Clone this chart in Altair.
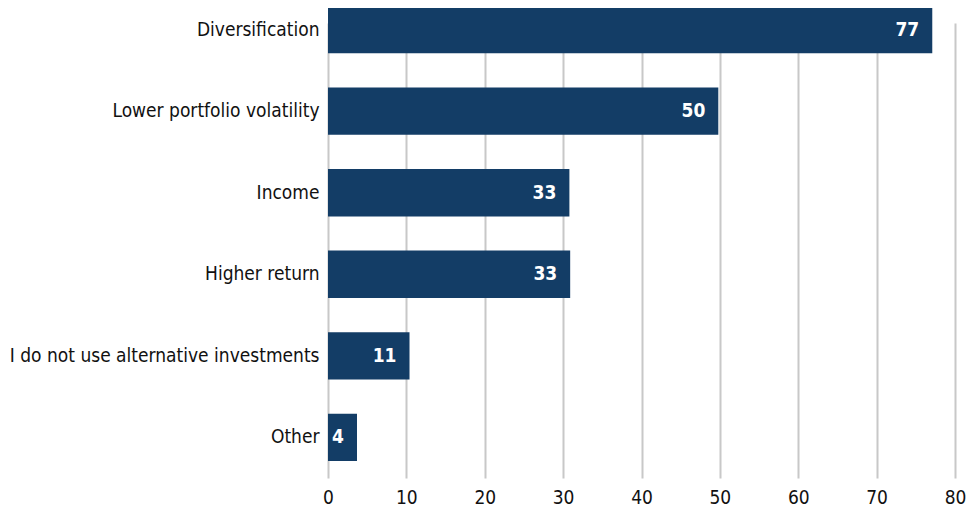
import altair as alt
import pandas as pd

categories = ["Diversification", "Lower portfolio volatility", "Income",
              "Higher return", "I do not use alternative investments", "Other"]
values = [77.1, 49.8, 30.8, 30.9, 10.4, 3.7]
labels = ["77", "50", "33", "33", "11", "4"]

df = pd.DataFrame({"cat": categories, "val": values, "lab": labels})

FONT = "DejaVu Sans Condensed, Liberation Sans Narrow, sans-serif"
FS = 19

y = alt.Y("cat:N", sort=categories, title=None,
          scale=alt.Scale(range=[-2, 453], paddingInner=0.42, paddingOuter=0),
          axis=alt.Axis(domain=False, ticks=False, labelPadding=9,
                        labelFontSize=FS, labelFont=FONT, labelColor="#111111",
                        labelLimit=400))
x = alt.X("val:Q", title=None,
          scale=alt.Scale(domain=[0, 80], nice=False),
          axis=alt.Axis(values=[0, 10, 20, 30, 40, 50, 60, 70, 80], domain=False,
                        ticks=False, labelPadding=12, labelFontSize=FS,
                        labelFont=FONT, labelColor="#111111", labelFlush=False,
                        grid=True, gridColor="#c8c8c8", gridWidth=2))

bars = alt.Chart(df).mark_bar(color="#133d66").encode(x=x, y=y)
text = alt.Chart(df).mark_text(align="right", baseline="middle", dx=-13,
                               color="white", fontWeight="bold",
                               fontSize=FS, font=FONT).encode(
    x="val:Q", y=alt.Y("cat:N", sort=categories), text="lab:N")

chart = (bars + text).properties(
    width=627, height=468,
    autosize=alt.AutoSizeParams(type="none"),
    padding={"left": 320, "top": 0, "right": 13, "bottom": 30},
).configure_view(stroke=None)

chart.save("out.html", embed_options={"renderer": "svg", "actions": False})
